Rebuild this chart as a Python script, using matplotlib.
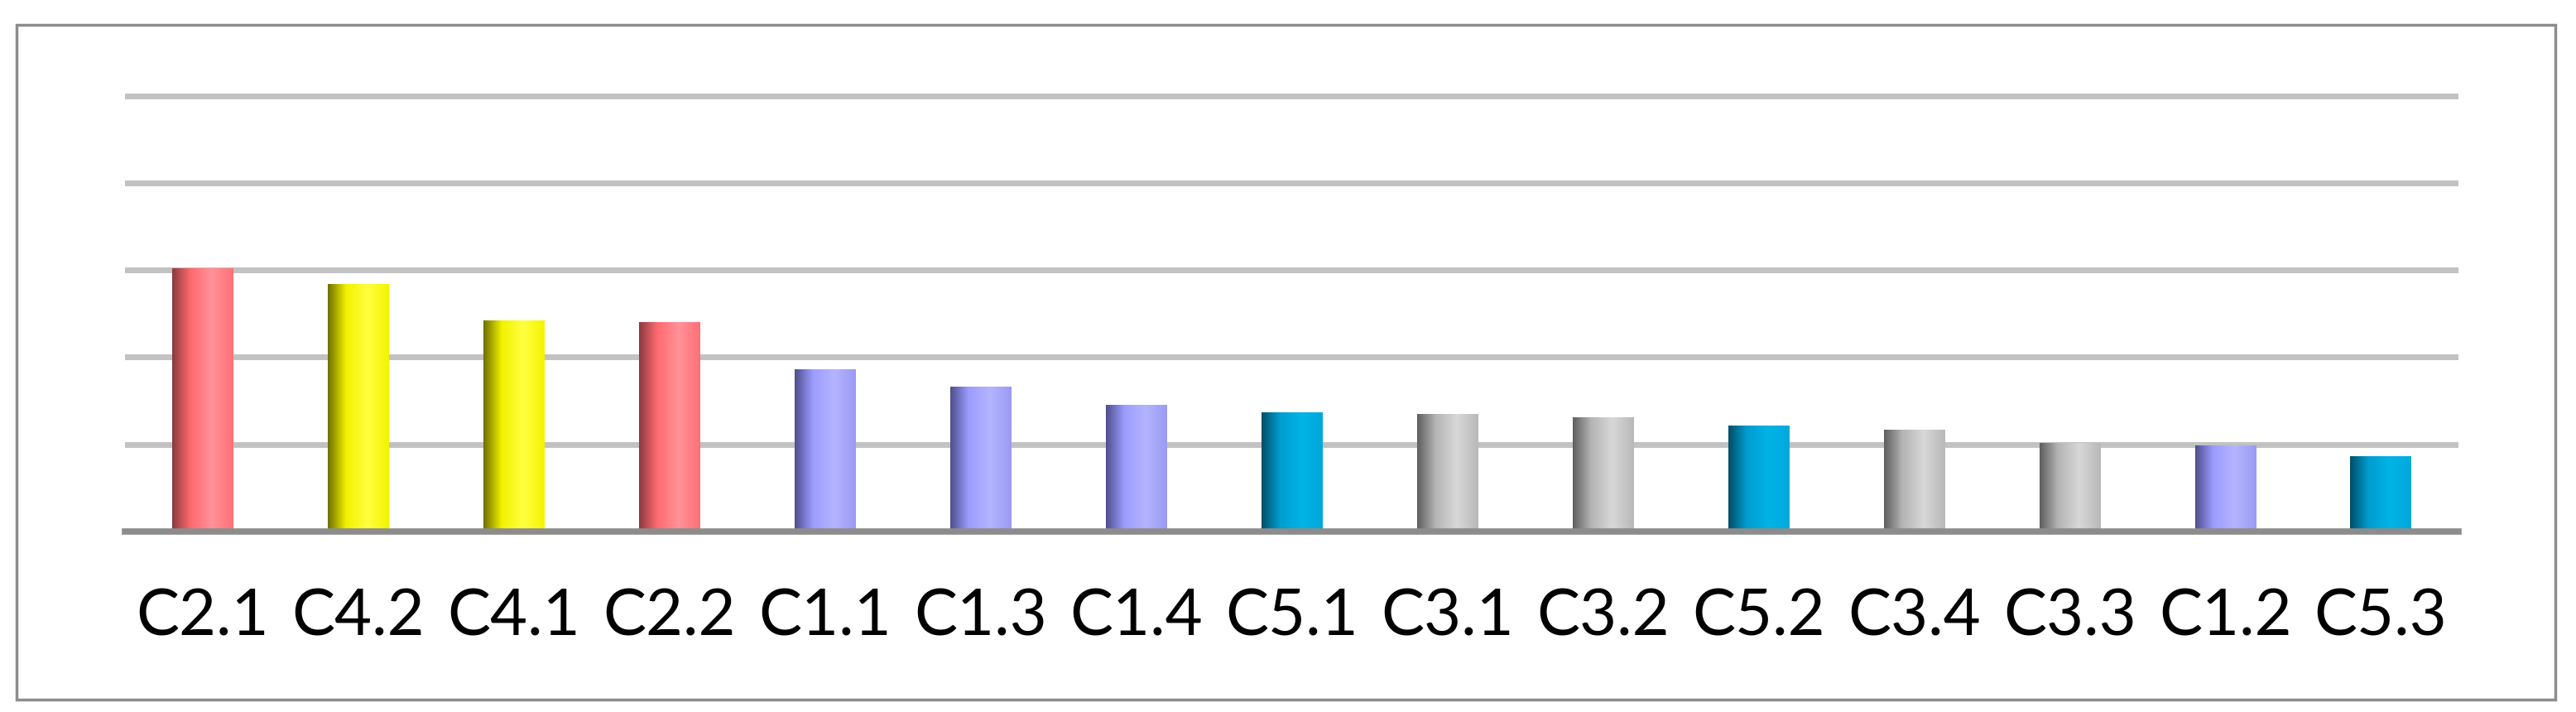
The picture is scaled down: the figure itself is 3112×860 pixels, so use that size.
import numpy as np
import matplotlib
matplotlib.use("Agg")
import matplotlib.pyplot as plt
from matplotlib.colors import LinearSegmentedColormap
from matplotlib.patches import Rectangle

# Data
categories = ["C2.1", "C4.2", "C4.1", "C2.2", "C1.1", "C1.3", "C1.4", "C5.1",
              "C3.1", "C3.2", "C5.2", "C3.4", "C3.3", "C1.2", "C5.3"]
values = [3.02, 2.84, 2.42, 2.40, 1.86, 1.66, 1.45, 1.37,
          1.35, 1.31, 1.22, 1.17, 1.02, 0.99, 0.86]
groups = ["C2", "C4", "C4", "C2", "C1", "C1", "C1", "C5",
          "C3", "C3", "C5", "C3", "C3", "C1", "C5"]

# cylinder-like shading per group: left edge, body, highlight, right edge
shades = {
    "C2": ["#8a3a3e", "#ff6a70", "#ff9298", "#ff7076"],
    "C4": ["#6e6e00", "#f2f200", "#ffff40", "#f4f400"],
    "C1": ["#4e4e8c", "#9c9cff", "#b4b4ff", "#9a9af4"],
    "C5": ["#004e66", "#009cd0", "#00b4e6", "#00a8dc"],
    "C3": ["#5e5e5e", "#b4b4b4", "#d8d8d8", "#b8b8b8"],
}

fig = plt.figure(figsize=(31.12, 8.6), dpi=100)
ax = fig.add_axes([0.0485, 0.2535, 0.9059, 0.6489])

x = np.arange(len(categories))
bars = ax.bar(x, values, width=0.39, color="none", zorder=3)

grad = np.linspace(0, 1, 256).reshape(1, -1)
for b, g in zip(bars, groups):
    c = shades[g]
    cmap = LinearSegmentedColormap.from_list(
        g, [(0.0, c[0]), (0.3, c[1]), (0.65, c[2]), (1.0, c[3])])
    x0, y0 = b.get_x(), b.get_y()
    im = ax.imshow(grad, cmap=cmap, aspect="auto", zorder=3,
                   extent=[x0, x0 + b.get_width(), y0, y0 + b.get_height()])
    im.set_clip_path(b)

ax.set_xlim(-0.5, len(categories) - 0.5)
ax.set_ylim(0, 5.3)
ax.set_yticks([1, 2, 3, 4, 5])
ax.yaxis.grid(True, color="#c2c2c2", linewidth=5, zorder=1)
ax.set_axisbelow(True)
ax.tick_params(axis="y", left=False, labelleft=False)
ax.tick_params(axis="x", bottom=False, pad=46)
ax.set_xticks(x)
ax.set_xticklabels(categories, fontsize=56, family="Lato")

for s in ["top", "right", "left"]:
    ax.spines[s].set_visible(False)
ax.spines["bottom"].set_color("#8c8c8c")
ax.spines["bottom"].set_linewidth(5.5)
ax.spines["bottom"].set_zorder(4)

# outer chart border
fig.patches.append(Rectangle((0.0065, 0.017), 0.9855, 0.948, transform=fig.transFigure,
                             fill=False, edgecolor="#8c8c8c", linewidth=2.5))

fig.savefig("out.png", dpi=100, facecolor="white")
